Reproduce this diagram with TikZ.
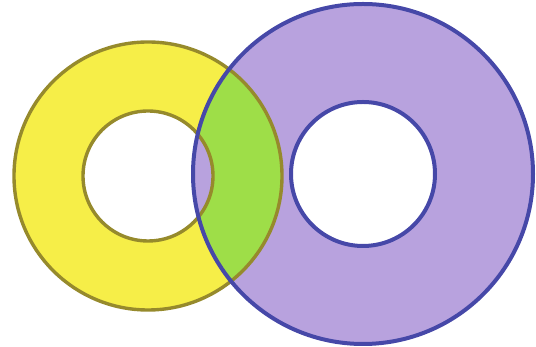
\documentclass[tikz,border=0pt]{standalone}
\usepackage{xcolor}

\definecolor{ringyellow}{RGB}{246,238,72}
\definecolor{ringpurple}{RGB}{184,162,222}
\definecolor{ringgreen}{RGB}{158,222,72}
\definecolor{rimolive}{RGB}{150,138,44}
\definecolor{rimblue}{RGB}{70,72,168}

\begin{document}
\begin{tikzpicture}[
    x=1pt, y=1pt,
    yellowrim/.style={draw=rimolive, line width=3.4pt},
    purplerim/.style={draw=rimblue, line width=4pt}
]
\useasboundingbox (0,0) rectangle (536,347);

\coordinate (yc) at (148,171);
\coordinate (pc) at (363,173);

% fills
\fill[ringyellow, even odd rule] (yc) circle[radius=134pt] (yc) circle[radius=65pt];
\fill[ringpurple, even odd rule] (pc) circle[radius=170pt] (pc) circle[radius=72pt];
\begin{scope}[even odd rule]
  \clip (yc) circle[radius=134pt] (yc) circle[radius=65pt];
  \fill[ringgreen] (pc) circle[radius=170pt] (pc) circle[radius=72pt];
\end{scope}

% rims
\draw[yellowrim] (yc) circle[radius=134pt];
\draw[yellowrim] (yc) circle[radius=65pt];
\draw[purplerim] (pc) circle[radius=170pt];
\draw[purplerim] (pc) circle[radius=72pt];

\end{tikzpicture}
\end{document}
